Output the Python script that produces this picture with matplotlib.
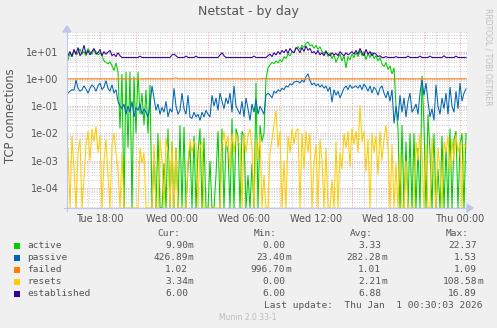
import matplotlib
matplotlib.use('Agg')
import matplotlib.pyplot as plt
import matplotlib.dates as mdates
from matplotlib.patches import Rectangle, Polygon
from matplotlib.lines import Line2D
import numpy as np
import pandas as pd

W, H = 497, 328

# 10 minute samples, Tue 15:20 -> Thu 00:30
times = pd.date_range('2025-12-30 15:20', periods=200, freq='10min')

active = [
    5.0, 8.5, 6.5, 11.0, 7.5, 9.0, 12.5, 8.0, 10.0, 7.0, 13.0, 9.5, 8.0, 11.5, 10.0, 7.5, 9.0, 7.0,
    4.5, 4.0, 3.5, 4.2, 3.0, 2.0, 3.8, 1.8, 0.015,
    1.5, 0, 1.8, 0.003, 1.8, 0, 1.2, 0.01, 1.8, 0.05, 0.3, 0.02, 0.4, 0.01, 0.6, 0, 0.002, 0, 0.01, 0,
    0, 0.0008, 0, 0.015, 0, 0.005, 0, 0.003, 0, 0.02,
    0, 0.017, 0, 0.0005, 0.004, 0, 0.008, 0, 0.002, 0.015, 0, 0.007, 0, 0, 0.001, 0, 0, 0.0003,
    0.012, 0, 0.015, 0, 0.005, 0.002, 0, 0.035, 0, 0.015, 0.008,
    0, 0.012, 0.008, 0, 0.0003, 0, 0.0008, 0, 0.7, 0, 0.02, 0.005, 0.01, 1.0, 2.5, 3.2, 4.0, 3.6,
    4.5, 3.8, 5.0, 4.2, 6.5, 5.5, 8.0, 7.0, 10.0, 9.0, 13.0,
    15, 12, 17, 14, 20, 22.37, 16, 18, 13, 17, 12, 15, 10, 8.5, 11, 6.5, 9, 5.5, 7.5, 4, 6, 8, 4.5,
    7, 2.5, 6.5, 5, 8, 6,
    9, 6.5, 11, 7, 10, 5, 8.5, 6, 9.5, 5.5, 7, 4.5, 6, 3.5, 2.8, 4, 2.2, 3, 1.5, 2.5, 0.1, 0.015,
    0, 0.02, 0, 0.005, 0, 0.01, 0,
    0.01, 0, 0.003, 0, 1.3, 0.02, 0, 0.05, 0.002, 0, 0.01, 0, 0.0005, 0, 0.008, 0, 0.003, 0, 0.015,
    0, 0.006, 0.012, 0, 0.004, 0.01, 0, 0.0099,
]

passive = [
    0.30, 0.35, 0.40, 0.38, 0.90, 0.45, 0.35, 0.40, 0.55, 0.42, 0.30, 0.45, 0.60, 0.50, 0.35, 0.55,
    0.70, 0.40, 0.50, 0.85, 0.45, 0.35, 0.60, 0.30, 0.40, 0.15, 0.10,
    0.08, 0.12, 0.05, 0.10, 0.06, 0.15, 0.04, 0.09, 0.07, 0.12, 0.05, 0.08, 0.06, 0.04, 0.10, 0.55,
    0.20, 0.07, 0.12, 0.05, 0.09, 0.06, 0.15, 0.04, 0.08, 0.06, 0.45, 0.10, 0.05, 0.07,
    0.30, 0.08, 0.05, 0.25, 0.04, 0.035, 0.06, 0.04, 0.05, 0.03, 0.06, 0.04, 0.07, 0.05, 0.04, 0.25,
    0.10, 0.20, 0.07, 0.30, 0.15, 0.08, 0.20, 0.12, 0.30, 0.06, 0.55, 0.10, 0.07,
    0.05, 0.15, 0.04, 0.20, 0.08, 0.03, 0.12, 0.06, 0.18, 0.05, 0.10, 0.07, 0.05, 0.25, 0.30, 0.25,
    0.20, 0.35, 0.30, 0.40, 0.35, 0.45, 0.40, 0.55, 0.50, 0.65, 0.60, 0.75, 0.80,
    0.80, 0.70, 0.90, 0.75, 1.2, 1.53, 0.85, 0.60, 0.70, 0.55, 0.65, 0.50, 0.60, 0.45, 0.55, 0.35,
    0.50, 0.14, 0.40, 0.25, 0.35, 0.20, 0.30, 0.45, 0.55, 0.40, 0.60, 0.45, 0.50,
    0.55, 0.45, 0.60, 0.40, 0.65, 0.50, 0.35, 0.55, 0.30, 0.50, 0.40, 0.25, 0.45, 0.55, 0.30, 0.20,
    0.35, 0.15, 0.40, 0.0234, 0.10, 0.03, 0.25, 0.06, 0.20, 0.04, 0.15, 0.30, 0.06,
    0.08, 0.12, 0.05, 0.30, 0.90, 0.25, 0.70, 0.15, 0.04, 0.08, 0.03, 0.60, 0.10, 0.05, 0.20, 0.08,
    0.30, 0.05, 0.50, 0.10, 0.06, 0.35, 0.08, 0.70, 0.15, 0.30, 0.42689,
]

failed = ([1.0] * 24 + [0.9967, 1.0, 1.0] + [1.0] * 26 + [1.05, 1.09, 1.02, 1.0]
          + [1.0] * 40 + [1.01, 1.03, 1.02, 1.01] + [1.0] * 70 + [1.0] * 28 + [1.02])

resets = [
    0.003, 0, 0.008, 0.0005, 0, 0.002, 0.006, 0, 0.0002, 0.004, 0.012, 0.001, 0.015, 0.005, 0.018,
    0.002, 0.008, 0, 0.001, 0.006, 0.0003, 0, 0.004, 0.01, 0.002, 0.0005, 0,
    0.002, 0, 0, 0, 0, 0, 0, 0, 0, 0.003, 0.0008, 0.002, 0, 0, 0, 0, 0.004, 0, 0, 0.006, 0.001, 0,
    0.007, 0.002, 0, 0.005, 0, 0.003, 0, 0,
    0, 0, 0, 0.001, 0.006, 0.002, 0.005, 0.004, 0, 0.003, 0.005, 0, 0, 0, 0, 0, 0, 0, 0, 0, 0.004,
    0.012, 0.003, 0.008, 0.0005, 0.01, 0.002, 0.01, 0.005,
    0.004, 0, 0.01, 0.002, 0.008, 0.015, 0.003, 0, 0.006, 0.001, 0.009, 0, 0.0003, 0, 0, 0.002,
    0.006, 0.02, 0.07, 0.003, 0.012, 0, 0.001, 0, 0.008, 0.002, 0.015, 0.004, 0.012,
    0.015, 0, 0.01, 0.0005, 0.012, 0.002, 0.01, 0, 0.0008, 0.004, 0, 0.006, 0.001, 0, 0.003, 0, 0,
    0.0002, 0, 0.005, 0, 0.002, 0.0005, 0.01, 0.003, 0.012, 0.0006, 0.015, 0.004,
    0.012, 0.002, 0.10858, 0.005, 0.012, 0.0004, 0.006, 0, 0.01, 0.002, 0.008, 0.0003, 0.012, 0.001,
    0.006, 0.02, 0.003, 0, 0.004, 0, 0.0008, 0, 0.002, 0, 0, 0.001, 0, 0, 0,
    0, 0.005, 0.001, 0.01, 0.002, 0, 0.004, 0, 0, 0.007, 0.0003, 0, 0.003, 0.0005, 0, 0.005, 0.002,
    0.008, 0.0004, 0.006, 0.001, 0.009, 0.002, 0.005, 0, 0.004, 0.00334,
]

established = [
    7, 10, 6.5, 12, 8, 14, 7, 9, 16.89, 8, 11, 7.5, 10, 13, 8, 9, 12, 7, 10, 8, 9.5, 11, 7, 8, 6.5, 9, 7,
    6, 6, 6, 6, 6, 6, 6, 6, 6, 6.8, 6, 6, 6, 6, 6, 6, 6, 6, 6, 6, 6, 6, 6, 6, 6, 7.5, 8, 7, 6, 6,
    6, 6, 6.8, 6, 6, 6, 6, 6.8, 6, 6, 6, 6, 6, 6, 6, 6, 6, 6, 6, 7.5, 9, 7, 6, 6, 6, 6, 6, 6, 6,
    6, 6, 6, 6, 6, 6, 6, 6.8, 6, 6, 6, 6, 6, 6, 7, 8, 6.5, 9, 7.5, 10, 8, 11, 9, 12, 8.5, 13, 10, 9, 14,
    12, 9, 14, 10, 16, 11, 13, 9, 10, 8, 11, 7.5, 9, 7, 10, 8, 7, 9, 7.5, 8.5, 7, 10, 8, 7, 9, 7.5,
    8.5, 10, 8,
    11, 8, 13, 9, 7, 12, 8, 10, 7, 9, 8, 6.5, 7, 6, 6, 6.5, 6, 6, 6, 6, 6.5, 6, 6, 6, 6, 6, 6.8, 6, 6,
    6, 6, 6, 6.8, 6, 6, 6, 6, 6.8, 6, 6, 6, 6, 6, 6, 7, 6, 6, 6, 6, 6, 6.8, 6, 6, 6, 6, 6,
]

series = [('active', active, '#00CC00'),
          ('passive', passive, '#0066B3'),
          ('failed', failed, '#FF8000'),
          ('resets', resets, '#FFCC00'),
          ('established', established, '#330099')]

# legend table (Cur / Min / Avg / Max)
cur = [('9.90', 'm'), ('426.89', 'm'), ('1.02', ''), ('3.34', 'm'), ('6.00', '')]
vmin = [('0.00', ''), ('23.40', 'm'), ('996.70', 'm'), ('0.00', ''), ('6.00', '')]
avg = [('3.33', ''), ('282.28', 'm'), ('1.01', ''), ('2.21', 'm'), ('6.88', '')]
vmax = [('22.37', ''), ('1.53', ''), ('1.09', ''), ('108.58', 'm'), ('16.89', '')]

TXT = '#555555'
YMIN, YMAX = 1.85e-5, 51.8


def fx(x):
    return x / W


def fy(y):
    return 1 - y / H


fig = plt.figure(figsize=(W / 100, H / 100), dpi=100, facecolor='#F0F0F0')
ax = fig.add_axes([fx(67), fy(208), 400 / W, 176 / H])
ax.set_facecolor('white')

for name, vals, color in series:
    y = np.maximum(np.array(vals, dtype=float), YMIN)
    ax.plot(times, y, color=color, linewidth=0.75, solid_joinstyle='miter', zorder=3)

ax.set_yscale('log')
ax.set_ylim(YMIN, YMAX)
ax.set_xlim(pd.Timestamp('2025-12-30 15:15'), pd.Timestamp('2026-01-01 00:35'))

ax.yaxis.set_major_locator(matplotlib.ticker.LogLocator(base=10, numticks=12))
ax.yaxis.set_minor_locator(matplotlib.ticker.LogLocator(base=10, subs=np.arange(2, 10), numticks=12))
ax.yaxis.set_major_formatter(plt.FuncFormatter(lambda v, p: f'{v:.0e}'))
ax.yaxis.set_minor_formatter(matplotlib.ticker.NullFormatter())

ax.xaxis.set_major_locator(mdates.HourLocator(byhour=range(0, 24, 3)))
ax.xaxis.set_minor_locator(mdates.HourLocator())


def xlabel(v, p):
    d = mdates.num2date(v)
    return d.strftime('%a %H:%M') if d.hour % 6 == 0 else ''


ax.xaxis.set_major_formatter(plt.FuncFormatter(xlabel))

ax.grid(which='minor', color='#CCCCCC', linestyle=(0, (1, 1.5)), linewidth=0.7, zorder=1)
ax.grid(which='major', color='#E3A3A3', linestyle=(0, (1, 1.5)), linewidth=0.7, zorder=2)
ax.set_axisbelow(True)
ax.tick_params(which='both', length=0, labelsize=7, labelcolor=TXT)
ax.tick_params(axis='y', pad=6)
ax.tick_params(axis='x', pad=4)
for s in ax.spines.values():
    s.set_visible(False)

# axis lines with arrow heads
AXC = '#BCC6EE'
fig.add_artist(Line2D([fx(64), fx(468)], [fy(208), fy(208)], color=AXC, lw=0.8))
fig.add_artist(Line2D([fx(67), fx(67)], [fy(211), fy(31)], color=AXC, lw=0.8))
fig.add_artist(Polygon([[fx(467), fy(204)], [fx(473), fy(208)], [fx(467), fy(212)]],
                       closed=True, transform=fig.transFigure, color=AXC))
fig.add_artist(Polygon([[fx(63), fy(32)], [fx(67), fy(26)], [fx(71), fy(32)]],
                       closed=True, transform=fig.transFigure, color=AXC))

fig.text(fx(248.5), fy(12), 'Netstat - by day', ha='center', va='center', fontsize=9, color=TXT)
fig.text(fx(11), fy(116), 'TCP connections', rotation=90, ha='center', va='center',
         fontsize=8.3, color=TXT)
fig.text(fx(488), fy(57), 'RRDTOOL / TOBI OETIKER', rotation=270, ha='center', va='center',
         fontsize=5.5, color='#C0C0C0')

# legend block
mono = dict(family='DejaVu Sans Mono', fontsize=6.8, color=TXT, va='center')
heads = [('Cur:', 180), ('Min:', 277), ('Avg:', 373), ('Max:', 469)]
for h, x in heads:
    fig.text(fx(x), fy(234), h, ha='right', **mono)

cols = [(cur, 188), (vmin, 285), (avg, 381), (vmax, 477)]
for i, (name, vals, color) in enumerate(series):
    y = 246 + 12 * i
    fig.add_artist(Rectangle((fx(14), fy(y + 3)), 6 / W, 6 / H, transform=fig.transFigure,
                             facecolor=color, edgecolor='none'))
    fig.text(fx(27), fy(y), name, ha='left', **mono)
    for col, x in cols:
        num, suf = col[i]
        fig.text(fx(x), fy(y), num, ha='right', **mono)
        if suf:
            fig.text(fx(x), fy(y), suf, ha='left', **mono)

fig.text(fx(483), fy(306), 'Last update:  Thu Jan  1 00:30:03 2026', ha='right', **mono)
fig.text(fx(248), fy(317), 'Munin 2.0.33-1', ha='center', va='center', fontsize=5.5,
         color='#BBBBBB')

plt.savefig('out.png', dpi=100, facecolor=fig.get_facecolor())
plt.close()
